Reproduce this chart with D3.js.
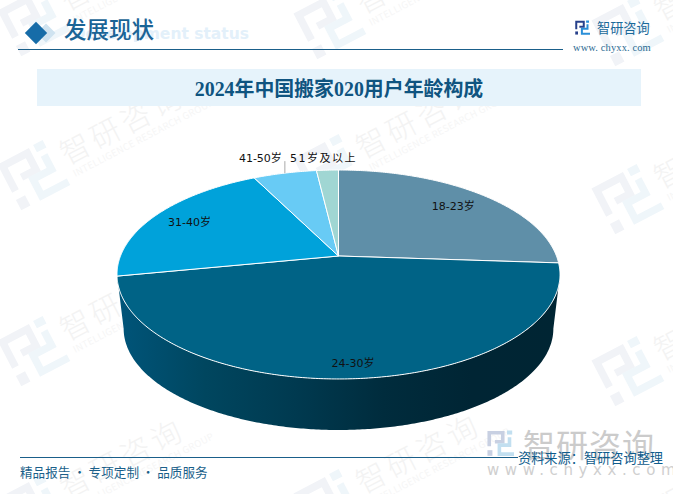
<!DOCTYPE html>
<html>
<head>
<meta charset="utf-8">
<script src="https://cdn.jsdelivr.net/npm/d3@7"></script>
<style>
  body { margin: 0; background: #fff; }
  svg { display: block; }
  text { font-family: "Noto Sans CJK SC", "Noto Sans", sans-serif; }
</style>
</head>
<body>
<div id="chart"></div>
<script>
const chartTitle = '2024年中国搬家020用户年龄构成';
const categories = ['18-23岁', '24-30岁', '31-40岁', '41-50岁', '51岁及以上'];
const shares = [26.1, 45.9, 20.7, 5.5, 1.9];
const sliceColors = ['#5f8fa8', '#006386', '#00a2da', '#68cbf5', '#a0d6d3'];

const W = 673, H = 494;
const svg = d3.select('#chart').append('svg').attr('width', W).attr('height', H);
const defs = svg.append('defs');

// Side wall gradient
const grad = defs.append('linearGradient').attr('id', 'side-grad')
  .attr('gradientUnits', 'userSpaceOnUse')
  .attr('x1', 117).attr('x2', 560).attr('y1', 0).attr('y2', 0);
[[0, '#00557a'], [0.2, '#00465f'], [0.4, '#003a50'], [0.6, '#002c3d'], [0.8, '#002534'], [1, '#002533']]
  .forEach(s => grad.append('stop').attr('offset', s[0]).attr('stop-color', s[1]));

// Company logo, drawn in a 24x24 box
function drawLogo(g, size, dark, light) {
  const k = size / 24;
  const l = g.append('g').attr('transform', `scale(${k}) translate(-12,-12)`)
    .attr('fill', 'none').attr('stroke-width', 3.2);
  l.append('path').attr('d', 'M2,14V2H14V10H7').attr('stroke', dark);
  l.append('rect').attr('x', 0.4).attr('y', 17.5).attr('width', 4.4).attr('height', 5).attr('fill', dark);
  l.append('path').attr('d', 'M20,6V13H11V21H24').attr('stroke', light);
  l.append('rect').attr('x', 17.8).attr('y', 0).attr('width', 4.6).attr('height', 3.6).attr('fill', light);
}

// Watermark tiles
const wmG = svg.append('g');
const wmX = [34, 330, 628];
const wmY = [[22, 176, 352, 510], [25, 170, 345, 505], [32, 200, 372, 530]];
wmX.forEach((x, i) => wmY[i].forEach(y => {
  const g = wmG.append('g').attr('transform', `translate(${x},${y}) rotate(-27.5)`);
  drawLogo(g, 56, '#f1f3f7', '#eff6fa');
  g.append('text').attr('x', 34).attr('y', 6).attr('font-size', 30).attr('letter-spacing', 4)
    .attr('font-weight', 300).attr('fill', '#f3f3f3').text('智研咨询');
  g.append('text').attr('x', 36).attr('y', 20).attr('font-size', 9.5).attr('letter-spacing', 0.3)
    .attr('fill', '#f6f6f6').text('INTELLIGENCE RESEARCH GROUP');
}));

// Header
svg.append('text').attr('x', 249).attr('y', 39).attr('text-anchor', 'end')
  .attr('font-size', 15.5).attr('font-weight', 700).attr('fill', '#e3f0fa')
  .style('font-family', '"DejaVu Sans"').text('Development status');
const diamond = d3.symbol().type(d3.symbolSquare).size(250);
svg.append('path').attr('d', diamond).attr('fill', '#cfe3f0')
  .attr('transform', 'translate(46,33) rotate(45) scale(0.85)');
svg.append('path').attr('d', diamond).attr('fill', '#166ca8')
  .attr('transform', 'translate(36,33) rotate(45)');
svg.append('text').attr('x', 64).attr('y', 38).attr('font-size', 22.5).attr('font-weight', 500)
  .attr('fill', '#1a6496').text('发展现状');
svg.append('line').attr('x1', 18).attr('x2', 563).attr('y1', 49.5).attr('y2', 49.5)
  .attr('stroke', '#1a5f8a').attr('stroke-width', 1);

const topLogo = svg.append('g').attr('transform', 'translate(582.5,28)');
drawLogo(topLogo, 15, '#27408b', '#2a8fd8');
svg.append('text').attr('x', 597).attr('y', 33).attr('font-size', 13.2)
  .attr('fill', '#1b6a9a').text('智研咨询');
svg.append('text').attr('x', 573).attr('y', 51).attr('font-size', 10.5)
  .attr('letter-spacing', 0.1).attr('fill', '#2b6a92')
  .style('font-family', '"Liberation Serif"').text('www. chyxx. com');

// Title band
svg.append('rect').attr('x', 37).attr('y', 69).attr('width', 604).attr('height', 37).attr('fill', '#e6f3fb');
svg.append('text').attr('x', 339).attr('y', 96).attr('text-anchor', 'middle')
  .attr('font-size', 19.9).attr('font-weight', 700).attr('fill', '#0f5480')
  .style('font-family', '"Liberation Serif", "Noto Sans CJK SC"').text(chartTitle);

// Perspective projection of the pie's unit disc
const cx = 338.5, cy = 256, A = 218, B = 101.2, tilt = 0.177;
const wallScale = 0.97, wallDrop = 54.7;
function project(u, v, s = 1, dy = 0) {
  const w = 1 + tilt * v;
  return [cx + s * A * u / w, cy + dy - s * B * v / w];
}
// angle runs clockwise from twelve o'clock, as d3.pie gives it
const onRim = (a, r = 1, s = 1, dy = 0) => project(r * Math.sin(a), r * Math.cos(a), s, dy);
const line = d3.line();

const arcs = d3.pie().sort(null).value(d => d)(shares);
const pieG = svg.append('g');

// Side wall: front part of the top rim, back along the bottom rim
const sideStart = Math.PI / 2 + Math.asin(tilt), sideEnd = 3 * Math.PI / 2 - Math.asin(tilt);
const sideAngles = d3.range(sideStart, sideEnd, 0.01).concat(sideEnd);
const sidePts = sideAngles.map(a => onRim(a))
  .concat(sideAngles.slice().reverse().map(a => onRim(a, 1, wallScale, wallDrop)));
pieG.append('path').attr('d', line(sidePts) + 'Z').attr('fill', 'url(#side-grad)');

// Top slices
pieG.selectAll('path.slice').data(arcs).join('path')
  .attr('class', 'slice')
  .attr('d', d => {
    const pts = d3.range(d.startAngle, d.endAngle, 0.01).concat(d.endAngle).map(a => onRim(a));
    return line([project(0, 0)].concat(pts)) + 'Z';
  })
  .attr('fill', (d, i) => sliceColors[i])
  .attr('stroke', '#fff').attr('stroke-width', 1).attr('stroke-linejoin', 'round');

// Labels
const labelG = svg.append('g').attr('font-size', 11).attr('fill', '#111');
const labelStyle = t => t.style('font-family', '"DejaVu Sans", "Noto Sans CJK SC"');
const insideRadius = [0.79, 0.89, 0.81];
arcs.forEach((d, i) => {
  const mid = (d.startAngle + d.endAngle) / 2;
  if (i < 3) {
    const p = onRim(mid, insideRadius[i]);
    labelG.append('text').attr('x', p[0]).attr('y', p[1] + 4).attr('text-anchor', 'middle')
      .call(labelStyle).text(categories[i]);
  }
});
const rim41 = onRim((arcs[3].startAngle + arcs[3].endAngle) / 2);
const rim51 = onRim((arcs[4].startAngle + arcs[4].endAngle) / 2);
labelG.append('text').attr('x', rim41[0] - 3).attr('y', rim41[1] - 11).attr('text-anchor', 'end')
  .call(labelStyle).text(categories[3]);
labelG.append('text').attr('x', rim51[0] - 4).attr('y', rim51[1] - 8).attr('text-anchor', 'middle')
  .attr('letter-spacing', 1.5).call(labelStyle).text(categories[4]);
svg.append('line').attr('x1', rim41[0]).attr('x2', rim41[0]).attr('y1', rim41[1] - 12).attr('y2', rim41[1])
  .attr('stroke', '#aaa').attr('stroke-width', 1);

// Footer
const bigLogo = svg.append('g').attr('transform', 'translate(500.5,444)');
drawLogo(bigLogo, 27, '#c8d0e2', '#c2dff0');
svg.append('text').attr('x', 523).attr('y', 457).attr('font-size', 32).attr('letter-spacing', 1)
  .attr('fill', '#cbcbcb').text('智研咨询');
svg.append('text').attr('x', 487).attr('y', 475).attr('font-size', 15).attr('letter-spacing', 5.6)
  .attr('fill', '#cfcfcf').style('font-family', '"DejaVu Sans"').text('www.chyxx.com');
svg.append('line').attr('x1', 20).attr('x2', 518).attr('y1', 457.5).attr('y2', 457.5)
  .attr('stroke', '#1a5f8a').attr('stroke-width', 1);
svg.append('text').attr('x', 518).attr('y', 463).attr('font-size', 13.2)
  .attr('fill', '#0f5c8c').text('资料来源：智研咨询整理');
svg.append('text').attr('x', 20).attr('y', 476.5).attr('font-size', 12.6)
  .attr('fill', '#1a5f8a').text('精品报告 · 专项定制 · 品质服务');
</script>
</body>
</html>
